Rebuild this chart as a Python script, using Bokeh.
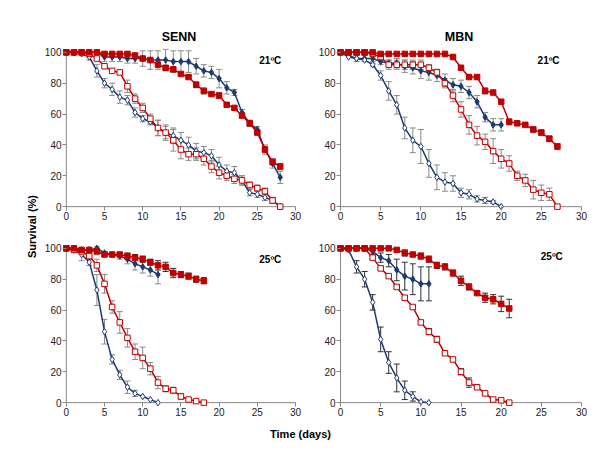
import math
from bokeh.plotting import figure
from bokeh.models import Range1d, Whisker, TeeHead, ColumnDataSource, Label, FixedTicker
from bokeh.layouts import row, column
from bokeh.embed import file_html
from bokeh.resources import INLINE
from bokeh.core.properties import value

# ---------------- data (survival %, one value per day starting at day 0) ----------------
senn21_bf = [100,100,100,100,100,97,97,97,96,96,96,95,95,95,94,94,94,91,88,87,83,77,74,61,54,50,37,28,19]
senn21_bf_err = [0,0,0,0,0,3,3,3,3,3,5,6,6,7,7,7,7,5,4,4,6,4,2,2,2,2,3,3,4]
senn21_rf = [100,100,100,100,100,99,99,99,99,98,96,95,92,90,89,86,84,79,75,73,72,66,64,59,54,48,37,29,26]
senn21_rf_err = [0,0,0,0,0,1,1,1,1,1,1,1,1,1,1,1,1,2,2,1,2,1,1,1,2,1,2,2,2]
senn21_bo = [100,100,99,97,88,80,76,71,69,61,57,55,51,48,46,43,40,36,35,33,27,23,22,17,9,8,6,4,0]
senn21_bo_err = [0,0,0,2,4,3,4,4,3,3,2,2,5,5,5,5,5,5,4,4,5,4,4,3,2,2,2,2,0]
senn21_ro = [100,100,100,99,96,91,88,87,78,70,64,57,51,48,43,37,34,34,31,26,22,20,18,17,14,12,10,4,0]
senn21_ro_err = [0,0,0,0,0,0,0,0,4,3,3,3,5,4,7,6,4,4,4,4,4,3,3,3,2,2,2,2,0]

mbn21_bf = [100,98,96,96,96,94,93,93,91,90,88,87,85,82,79,78,74,68,58,53,53]
mbn21_bf_err = [0,0,2,2,2,2,2,3,4,4,5,5,4,4,4,4,4,4,3,4,4]
mbn21_rf = [100,100,100,100,100,99,99,99,99,99,99,99,99,99,97,90,84,84,75,74,68,55,54,53,50,48,44,39]
mbn21_rf_err = [0,0,0,0,0,0,0,0,0,0,0,0,0,0,1,1,1,1,2,1,1,2,1,1,2,2,2,2]
mbn21_bo = [100,97,96,95,92,85,75,66,51,43,39,28,19,16,15,9,8,5,4,3,0]
mbn21_bo_err = [0,0,0,0,1,3,6,6,7,8,11,9,8,6,5,3,3,2,2,1,0]
mbn21_ro = [100,100,100,100,99,97,92,92,92,92,92,90,87,80,72,63,53,46,42,36,31,28,20,17,11,9,8,0]
mbn21_ro_err = [0,0,0,0,0,2,3,3,3,3,3,2,2,3,4,5,6,6,5,8,6,5,3,4,6,5,4,0]

senn25_bf = [100,100,99,99,100,97,96,95,93,90,88,86,83]
senn25_bf_err = [0,0,0,1,1,1,1,2,3,4,4,4,6]
senn25_rf = [100,100,99,99,98,96,96,96,95,94,93,91,89,88,84,83,82,80,79]
senn25_rf_err = [0,0,1,1,1,1,1,1,2,2,2,2,3,3,3,2,2,2,2]
senn25_bo = [100,99,96,91,73,46,28,18,10,6,4,2,0]
senn25_bo_err = [0,0,4,2,10,8,3,3,4,2,0,0,0]
senn25_ro = [100,99,98,95,89,77,62,52,42,33,29,22,13,9,8,4,2,1,0]
senn25_ro_err = [0,0,0,2,4,6,4,7,6,5,7,4,4,2,2,2,0,0,0]

mbn25_bf = [100,100,100,100,98,94,92,86,82,80,77,77]
mbn25_bf_err = [0,0,0,0,2,3,4,7,9,10,11,11]
mbn25_rf = [100,100,100,100,100,100,100,99,97,96,95,93,89,88,84,79,75,71,68,67,64,61]
mbn25_rf_err = [0,0,0,0,0,0,0,1,2,1,2,2,2,2,2,3,2,1,3,3,5,6]
mbn25_bo = [100,99,88,80,65,41,26,16,8,4,0.5,0]
mbn25_bo_err = [0,0,4,5,5,8,7,9,6,3,0,0]
mbn25_ro = [100,100,100,100,94,87,82,75,68,62,52,46,41,32,28,20,13,10,6,2,1.5,0]
mbn25_ro_err = [0,0,0,0,1,1,1,1,1,1,1,2,2,1,1,2,3,1,1,1,0,0]

x_ticks = [0, 5, 10, 15, 20, 25, 30]
y_ticks = [0, 20, 40, 60, 80, 100]
col_titles = ["SENN", "MBN"]
temps = ["21ºC", "25ºC"]
x_title = "Time (days)"
y_title = "Survival (%)"

FONT = "Liberation Sans"
BLUE = "#1C3B70"
RED = "#C00000"
GREY_ERR = "#8A8A8A"
DARK_ERR = "#303030"
AXIS_C = "#868686"
XPAD = 0.5
YPAD = 2.5


def add_errors(p, vals, errs, color):
    xs = [d for d, e in enumerate(errs) if e > 0]
    up = [vals[d] + errs[d] for d in xs]
    lo = [vals[d] - errs[d] for d in xs]
    src = ColumnDataSource(dict(x=xs, upper=up, lower=lo))
    w = Whisker(base="x", upper="upper", lower="lower", source=src, dimension="height",
                line_color=color, line_width=1, level="underlay",
                upper_head=TeeHead(size=6, line_color=color, line_width=1),
                lower_head=TeeHead(size=6, line_color=color, line_width=1))
    p.add_layout(w)


def add_series(p, vals, color, marker, filled, size):
    days = list(range(len(vals)))
    p.line(days, vals, line_color=color, line_width=1.5)
    p.scatter(days, vals, marker=marker, size=size, line_color=color, line_width=1,
              fill_color=color if filled else "white")


def make_panel(series, temp, frame_w, left, right, top, bottom, title=None, lab_x=26.5, lab_y=94):
    kw = dict(frame_width=frame_w, frame_height=162,
              x_range=Range1d(x_ticks[0] - XPAD, x_ticks[-1]),
              y_range=Range1d(y_ticks[0] - YPAD, y_ticks[-1] + YPAD),
              output_backend="svg", toolbar_location=None,
              min_border_left=left, min_border_right=right,
              min_border_top=top, min_border_bottom=bottom)
    if title:
        kw["title"] = title
    p = figure(**kw)
    p.outline_line_color = None
    p.grid.visible = False
    if title:
        p.title.align = "center"
        p.title.text_font = FONT
        p.title.text_font_size = "12.5px"
        p.title.text_font_style = "bold"
        p.title.text_color = "#000000"
        p.title.standoff = 10
    for ax in (p.xaxis[0], p.yaxis[0]):
        ax.axis_line_color = None
        ax.major_tick_line_color = AXIS_C
        ax.major_tick_out = 0
        ax.major_tick_in = 4
        ax.minor_tick_line_color = None
        ax.major_label_text_font = FONT
        ax.major_label_text_font_size = "10px"
        ax.major_label_text_color = "#222222"
        ax.major_label_standoff = 1
    p.xaxis.ticker = FixedTicker(ticks=x_ticks)
    p.yaxis.ticker = FixedTicker(ticks=y_ticks)
    # axis lines through the data zero
    p.line([x_ticks[0], x_ticks[-1]], [y_ticks[0], y_ticks[0]], line_color=AXIS_C, line_width=1)
    p.line([x_ticks[0], x_ticks[0]], [y_ticks[0], y_ticks[-1]], line_color=AXIS_C, line_width=1)

    (bf, bfe), (bo, boe), (ro, roe), (rf, rfe), errc = series
    add_errors(p, bf, bfe, errc[0])
    add_errors(p, bo, boe, errc[1])
    add_errors(p, ro, roe, errc[2])
    add_errors(p, rf, rfe, errc[3])
    add_series(p, bf, BLUE, "diamond", True, 6.5)
    add_series(p, bo, BLUE, "diamond", False, 6.5)
    add_series(p, ro, RED, "square", False, 5.5)
    add_series(p, rf, RED, "square", True, 5.5)
    p.add_layout(Label(x=lab_x, y=lab_y, text=temp, text_align="center", text_baseline="middle",
                       text_font=FONT, text_font_size="10px", text_font_style="bold",
                       text_color="#000000"))
    return p


p1 = make_panel(((senn21_bf, senn21_bf_err), (senn21_bo, senn21_bo_err), (senn21_ro, senn21_ro_err),
                 (senn21_rf, senn21_rf_err), [GREY_ERR] * 4),
                temps[0], 233, 22, 10, 48, 30, title=col_titles[0], lab_x=26.7, lab_y=94.5)
p2 = make_panel(((mbn21_bf, mbn21_bf_err), (mbn21_bo, mbn21_bo_err), (mbn21_ro, mbn21_ro_err),
                 (mbn21_rf, mbn21_rf_err), [GREY_ERR] * 4),
                temps[0], 245, 31, 8, 48, 30, title=col_titles[1], lab_x=25.9, lab_y=94.5)
p3 = make_panel(((senn25_bf, senn25_bf_err), (senn25_bo, senn25_bo_err), (senn25_ro, senn25_ro_err),
                 (senn25_rf, senn25_rf_err), [GREY_ERR, GREY_ERR, GREY_ERR, DARK_ERR]),
                temps[1], 233, 22, 10, 4, 20, lab_x=26.7, lab_y=93)
p4 = make_panel(((mbn25_bf, mbn25_bf_err), (mbn25_bo, mbn25_bo_err), (mbn25_ro, mbn25_ro_err),
                 (mbn25_rf, mbn25_rf_err), [DARK_ERR] * 4),
                temps[1], 245, 31, 8, 4, 20, lab_x=26.3, lab_y=94.5)


def text_fig(w, h, txt, fx, fy, angle=0.0):
    f = figure(width=w, height=h, x_range=Range1d(0, 1), y_range=Range1d(0, 1),
               x_axis_type=None, y_axis_type=None, output_backend="svg",
               toolbar_location=None, min_border=0)
    f.outline_line_color = None
    f.grid.visible = False
    f.text(x=[fx], y=[fy], text=[txt], angle=angle, text_align="center", text_baseline="middle",
           text_font=value(FONT), text_font_size="11px", text_font_style="bold", text_color="#000000")
    return f


grid = column(row(p1, p2), row(p3, p4))
ylab = text_fig(40, 426, y_title, 31 / 40, 1 - 226 / 426, angle=math.pi / 2)
xlab = text_fig(589, 16, x_title, 300 / 589, 1 - 7 / 16)
layout = column(row(ylab, grid), xlab)

open("out.html", "w").write(file_html(layout, INLINE))
